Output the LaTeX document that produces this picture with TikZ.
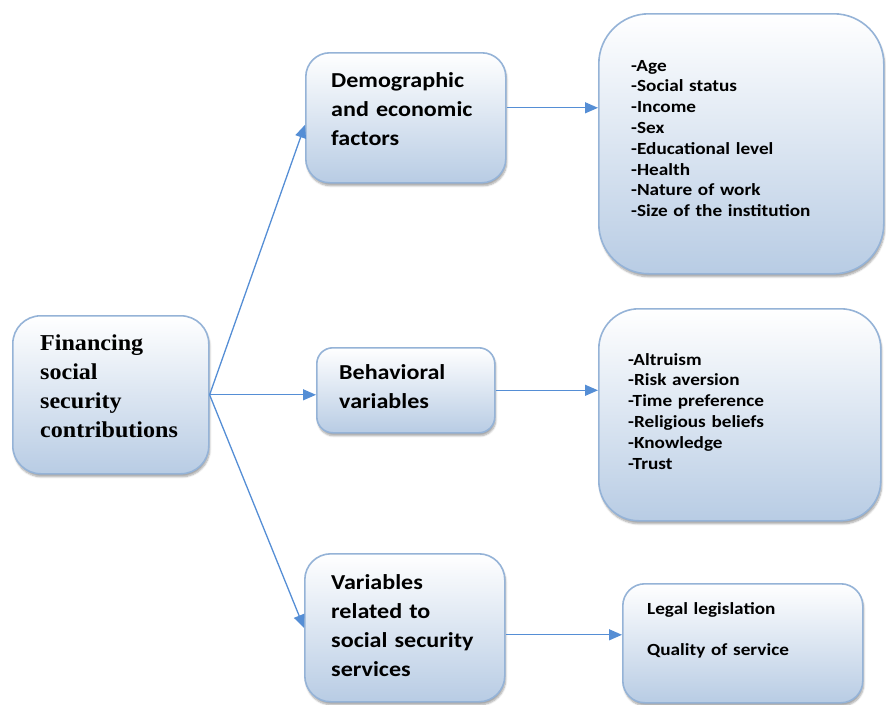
\documentclass[tikz,border=0pt]{standalone}
\usepackage{fontspec}
\setmainfont{Liberation Serif}[FakeStretch=1.06]
\newfontfamily\calfont{Carlito}[FakeStretch=1.13]
\usetikzlibrary{arrows.meta,shadows.blur}
\definecolor{boxline}{RGB}{149,179,215}
\definecolor{boxfill}{RGB}{184,204,228}
\definecolor{arrowblue}{RGB}{85,142,213}
\tikzset{
  box/.style={draw=boxline, line width=1.6pt, top color=white, bottom color=boxfill,
    blur shadow={shadow xshift=1pt, shadow yshift=-3pt, shadow opacity=35, shadow blur steps=6},
    anchor=north west, inner sep=0pt},
  txt/.style={anchor=base west, inner sep=0pt, align=left},
  headtxt/.style={txt, font=\calfont\bfseries\fontsize{21.3}{29}\selectfont},
  listtxt/.style={txt, font=\calfont\bfseries\fontsize{17}{20.8}\selectfont},
  arr/.style={draw=arrowblue, line width=1.3pt, -{Triangle[length=13pt,width=11pt]}}
}
\begin{document}
\begin{tikzpicture}[x=1pt, y=-1pt]
\useasboundingbox (0,0) rectangle (886,704);

% boxes
\node[box, rounded corners=28pt, minimum width=196pt, minimum height=158pt] (fin) at (12,315) {};
\node[box, rounded corners=24pt, minimum width=200pt, minimum height=130pt] (demo) at (305,52) {};
\node[box, rounded corners=50pt, minimum width=285pt, minimum height=260pt] (demolist) at (598,13) {};
\node[box, rounded corners=16pt, minimum width=178pt, minimum height=85pt] (behav) at (316,347) {};
\node[box, rounded corners=40pt, minimum width=282pt, minimum height=212pt] (behavlist) at (598,308) {};
\node[box, rounded corners=26pt, minimum width=200pt, minimum height=148pt] (serv) at (304,553) {};
\node[box, rounded corners=22pt, minimum width=240pt, minimum height=119pt] (servlist) at (622,583) {};

% texts
\node[txt, font=\bfseries\fontsize{22.7}{29}\selectfont, text width=170pt] (fintxt) at (40,350)
  {Financing\\social\\security\\contributions};
\node[headtxt, text width=170pt] (demotxt) at (331,87) {Demographic\\and economic\\factors};
\node[listtxt, text width=240pt] (demolisttxt) at (631,71)
  {-Age\\-Social status\\-Income\\-Sex\\-Educational level\\-Health\\-Nature of work\\-Size of the institution};
\node[headtxt, text width=150pt] (behavtxt) at (339,379) {Behavioral\\variables};
\node[listtxt, text width=240pt] (behavlisttxt) at (628,365)
  {-Altruism\\-Risk aversion\\-Time preference\\-Religious beliefs\\-Knowledge\\-Trust};
\node[headtxt, text width=170pt] (servtxt) at (331,589) {Variables\\related to\\social security\\services};
\node[listtxt, text width=200pt] (servlisttxt) at (647,614) {Legal legislation\\[20.8pt]Quality of service};

% connectors
\draw[arr] (fin.east) -- ([yshift=-7pt]demo.west);
\draw[arr] (fin.east) -- (fin.east -| behav.west);
\draw[arr] (fin.east) -- (serv.west);
\draw[arr] ([yshift=10pt]demo.east) -- ([yshift=10pt]demo.east -| demolist.west);
\draw[arr] (behav.east) -- (behav.east -| behavlist.west);
\draw[arr] ([yshift=-7pt]serv.east) -- ([yshift=-7pt]serv.east -| servlist.west);
\end{tikzpicture}
\end{document}
